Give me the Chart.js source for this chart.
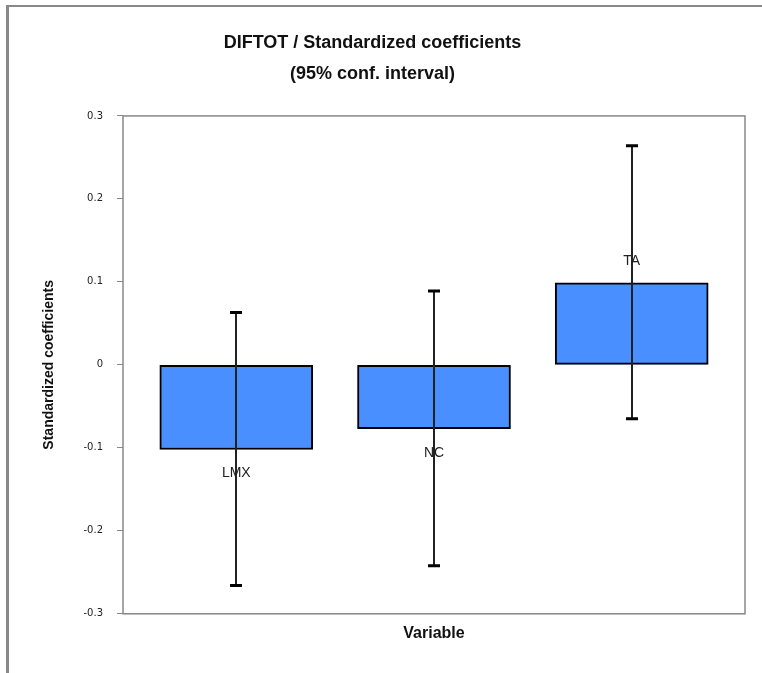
<!DOCTYPE html>
<html>
<head>
<meta charset="utf-8">
<script src="https://cdn.jsdelivr.net/npm/chart.js@4.4.1/dist/chart.umd.min.js"></script>
<style>
html, body { margin: 0; padding: 0; background: #fff; }
#wrap { position: relative; width: 762px; height: 673px; }
#frame { position: absolute; left: 6px; top: 5px; right: 0; bottom: 0;
         border-left: 3px solid #888; border-top: 2px solid #888; pointer-events: none; }
</style>
</head>
<body>
<div id="wrap">
  <canvas id="chart" width="762" height="673"></canvas>
  <div id="frame"></div>
</div>
<script>
var categories = ['LMX', 'NC', 'TA'];
var coefs = [-0.102, -0.077, 0.099];
var lowerBounds = [-0.266, -0.242, -0.065];
var upperBounds = [0.063, 0.089, 0.264];
var yTicks = [-0.3, -0.2, -0.1, 0, 0.1, 0.2, 0.3];

// box round the plot area
var plotFrame = {
     id: 'plotFrame',
     afterDatasetsDraw: function (chart) {
          var a = chart.chartArea, ctx = chart.ctx;
          ctx.save();
          ctx.strokeStyle = '#888';
          ctx.lineWidth = 1.5;
          ctx.strokeRect(a.left, a.top, a.right - a.left, a.bottom - a.top);
          ctx.restore();
     }
};

// category names next to the bar ends
var barLabels = {
     id: 'barLabels',
     afterDatasetsDraw: function (chart) {
          var ctx = chart.ctx;
          var meta = chart.getDatasetMeta(0);
          ctx.save();
          ctx.font = '14px "Liberation Sans"';
          ctx.fillStyle = '#222';
          ctx.textAlign = 'center';
          ctx.textBaseline = 'middle';
          meta.data.forEach(function (el, i) {
               var y = coefs[i] < 0 ? el.y + 24 : el.y - 22;
               ctx.fillText(categories[i], el.x, y);
          });
          ctx.restore();
     }
};

// 95% interval whiskers
var errorBars = {
     id: 'errorBars',
     afterDatasetsDraw: function (chart) {
          var ctx = chart.ctx;
          var yScale = chart.scales.y;
          var meta = chart.getDatasetMeta(0);
          ctx.save();
          meta.data.forEach(function (el, i) {
               var yLo = yScale.getPixelForValue(lowerBounds[i]);
               var yHi = yScale.getPixelForValue(upperBounds[i]);
               var x = Math.round(el.x);
               ctx.strokeStyle = '#222';
               ctx.lineWidth = 2;
               ctx.beginPath();
               ctx.moveTo(x, yHi);
               ctx.lineTo(x, yLo);
               ctx.stroke();
               ctx.strokeStyle = '#000';
               ctx.lineWidth = 3;
               ctx.beginPath();
               ctx.moveTo(x - 6, yHi);
               ctx.lineTo(x + 6, yHi);
               ctx.moveTo(x - 6, yLo);
               ctx.lineTo(x + 6, yLo);
               ctx.stroke();
          });
          ctx.restore();
     }
};

var config = {
     type: 'bar',
     data: {
          datasets: [{
               data: categories.map(function (c, i) { return { x: i, y: coefs[i] }; }),
               backgroundColor: '#4a8fff',
               borderColor: '#000',
               borderWidth: 2,
               borderSkipped: false,
               barThickness: 153
          }]
     },
     options: {
          responsive: false,
          animation: false,
          layout: { padding: { left: 0, right: 17, top: 0, bottom: 30 } },
          plugins: {
               legend: { display: false },
               tooltip: { enabled: false },
               title: {
                    display: true,
                    text: ['DIFTOT / Standardized coefficients', '(95% conf. interval)'],
                    color: '#111',
                    font: { family: 'Liberation Sans', size: 18, weight: 'bold', lineHeight: 1.72 },
                    padding: { top: 28, bottom: 26 }
               }
          },
          scales: {
               x: {
                    type: 'linear',
                    offset: false,
                    min: -0.573,
                    max: 2.573,
                    ticks: { display: false },
                    grid: { display: false },
                    border: { display: false },
                    title: {
                         display: true,
                         text: 'Variable',
                         color: '#111',
                         font: { family: 'Liberation Sans', size: 16, weight: 'bold' },
                         padding: { top: 2, bottom: 0 }
                    }
               },
               y: {
                    min: -0.3,
                    max: 0.3,
                    afterBuildTicks: function (scale) {
                         scale.ticks = yTicks.map(function (v) { return { value: v }; });
                    },
                    afterFit: function (scale) {
                         scale.width = 123;
                    },
                    ticks: {
                         padding: 14,
                         color: '#222',
                         font: { family: 'DejaVu Sans', size: 10 },
                         callback: function (v) { return String(v); }
                    },
                    grid: { drawOnChartArea: false, drawTicks: true, tickLength: 6, color: '#888' },
                    border: { display: false },
                    title: {
                         display: true,
                         text: 'Standardized coefficients',
                         color: '#111',
                         font: { family: 'Liberation Sans', size: 14, weight: 'bold' },
                         padding: { top: 41, bottom: 0 }
                    }
               }
          }
     },
     plugins: [plotFrame, barLabels, errorBars]
};

window.onload = function () {
     var ctx = document.getElementById('chart').getContext('2d');
     window.myChart = new Chart(ctx, config);
};
</script>
</body>
</html>
